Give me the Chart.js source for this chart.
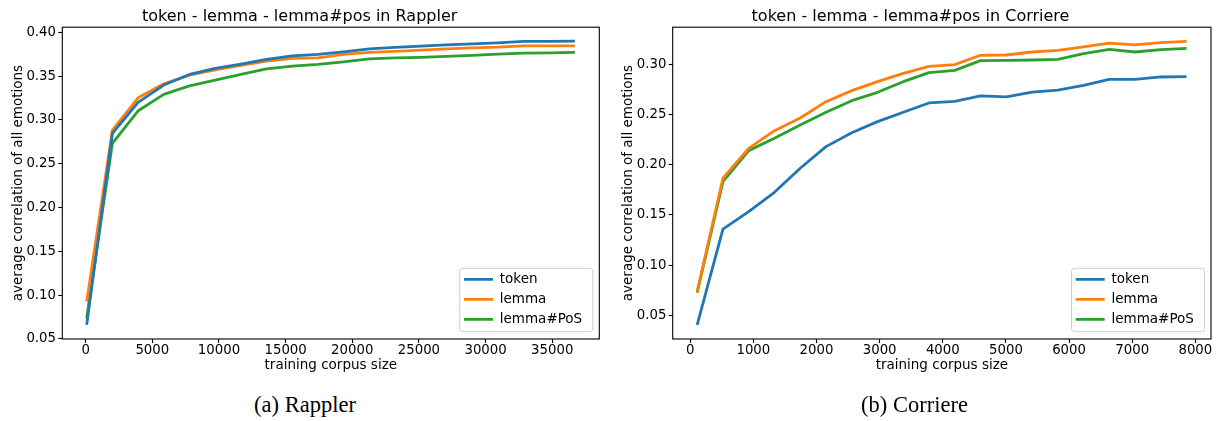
<!DOCTYPE html>
<html>
<head>
<meta charset="utf-8">
<script src="https://cdn.jsdelivr.net/npm/chart.js@4.4.1/dist/chart.umd.min.js"></script>
<style>
  html, body { margin: 0; padding: 0; background: #fff; width: 1219px; height: 421px; overflow: hidden; position: relative; }
  .wrap { position: absolute; top: 0; }
  .cap { position: absolute; top: 393.5px; font-family: "Liberation Serif", serif; font-size: 22.5px; line-height: 1; text-align: center; color: #000; white-space: nowrap; }
</style>
</head>
<body>
<div class="wrap" style="left:0px;width:662px;height:385px;"><canvas id="c1" width="662" height="385"></canvas></div>
<div class="wrap" style="left:610px;width:664px;height:385px;"><canvas id="c2" width="664" height="385"></canvas></div>
<div class="cap" style="left:0px;width:610px;">(a) Rappler</div>
<div class="cap" style="left:610px;width:609px;">(b) Corriere</div>
<script>
// ---------- data ----------
const seriesNames = ["token", "lemma", "lemma#PoS"];

const rapplerSizes = [80, 2007, 3935, 5862, 7789, 9717, 11644, 13572, 15499, 17426, 19354, 21281, 23208, 25136, 27063, 28991, 30918, 32845, 34773, 36700];
const rapplerToken = [0.066, 0.2847, 0.3201, 0.3399, 0.3520, 0.3589, 0.3638, 0.3692, 0.3733, 0.3749, 0.3779, 0.3813, 0.3829, 0.3844, 0.3859, 0.3870, 0.3881, 0.3897, 0.3897, 0.3901];
const rapplerLemma = [0.0925, 0.2885, 0.3254, 0.3413, 0.3513, 0.3573, 0.3623, 0.3672, 0.3703, 0.3710, 0.3749, 0.3772, 0.3783, 0.3798, 0.3813, 0.3824, 0.3832, 0.3847, 0.3847, 0.3847];
const rapplerPos   = [0.0735, 0.2733, 0.3105, 0.3292, 0.3390, 0.3456, 0.3520, 0.3585, 0.3615, 0.3635, 0.3665, 0.3699, 0.3710, 0.3715, 0.3726, 0.3737, 0.3752, 0.3764, 0.3767, 0.3772];

const corriereSizes = [110, 518, 926, 1334, 1742, 2150, 2558, 2966, 3374, 3781, 4189, 4597, 5005, 5413, 5821, 6229, 6637, 7044, 7452, 7860];
const corriereToken = [0.0404, 0.1357, 0.1533, 0.1725, 0.1964, 0.2180, 0.2319, 0.2429, 0.2522, 0.2615, 0.2631, 0.2685, 0.2675, 0.2724, 0.2744, 0.2791, 0.2851, 0.2851, 0.2874, 0.2877];
const corriereLemma = [0.0736, 0.1865, 0.2163, 0.2339, 0.2465, 0.2628, 0.2738, 0.2827, 0.2910, 0.2980, 0.2997, 0.3090, 0.3093, 0.3123, 0.3139, 0.3173, 0.3212, 0.3193, 0.3216, 0.3229];
const corrierePos   = [0.0725, 0.1831, 0.2140, 0.2263, 0.2396, 0.2522, 0.2638, 0.2721, 0.2827, 0.2917, 0.2940, 0.3037, 0.3040, 0.3043, 0.3050, 0.3106, 0.3149, 0.3123, 0.3146, 0.3159];

const rapplerXTicks = [0, 5000, 10000, 15000, 20000, 25000, 30000, 35000];
const rapplerYTicks = [0.05, 0.10, 0.15, 0.20, 0.25, 0.30, 0.35, 0.40];
const corriereXTicks = [0, 1000, 2000, 3000, 4000, 5000, 6000, 7000, 8000];
const corriereYTicks = [0.05, 0.10, 0.15, 0.20, 0.25, 0.30];

const titles = ["token - lemma - lemma#pos in Rappler", "token - lemma - lemma#pos in Corriere"];
const xLabel = "training corpus size";
const yLabel = "average correlation of all emotions";

// ---------- styling ----------
const colors = ["#1f77b4", "#ff7f0e", "#2ca02c"];
const FONT = "DejaVu Sans";
Chart.defaults.color = "#000";
Chart.defaults.font.family = FONT;

const framePlugin = {
  id: "mplFrame",
  beforeDraw(chart) {
    const a = chart.chartArea, ctx = chart.ctx;
    // legend box (matplotlib style)
    const x = a.right - 139.5, y = a.bottom - 70.7, w = 133, h = 63.4;
    ctx.save();
    ctx.beginPath();
    ctx.roundRect(x, y, w, h, 3);
    ctx.fillStyle = "rgba(255,255,255,0.8)";
    ctx.fill();
    ctx.strokeStyle = "#cccccc";
    ctx.lineWidth = 1;
    ctx.stroke();
    ctx.restore();
  },
  afterLayout(chart) {
    const a = chart.chartArea, lg = chart.legend;
    if (!lg) return;
    const w = lg.width, h = lg.height;
    lg.left = a.right - 141.8;
    lg.top = a.bottom - 72.95;
    lg.right = lg.left + w;
    lg.bottom = lg.top + h;
  },
  afterDraw(chart) {
    const a = chart.chartArea, ctx = chart.ctx;
    ctx.save();
    ctx.strokeStyle = "#000";
    ctx.lineWidth = 1.1;
    ctx.strokeRect(a.left, a.top, a.right - a.left, a.bottom - a.top);
    ctx.restore();
  }
};

function makeChart(id, title, sizes, seriesList, xTicks, yTicks, xr, yr, yAxisW, padRight) {
  const datasets = seriesList.map((vals, i) => ({
    label: seriesNames[i],
    data: sizes.map((s, k) => ({ x: s, y: vals[k] })),
    borderColor: colors[i],
    backgroundColor: colors[i],
    borderWidth: 2.8,
    pointRadius: 0,
    pointHoverRadius: 0,
    tension: 0,
    fill: false,
    borderJoinStyle: "round"
  }));
  return new Chart(document.getElementById(id), {
    type: "line",
    data: { datasets },
    plugins: [framePlugin],
    options: {
      responsive: false,
      animation: false,
      events: [],
      layout: { padding: { left: 0, right: padRight, top: 0, bottom: 0 } },
      plugins: {
        title: {
          display: true, text: title, color: "#000",
          font: { family: FONT, size: 16, weight: "normal", lineHeight: 1.2 },
          padding: { top: 7, bottom: 1 }
        },
        legend: {
          display: true, position: "chartArea", align: "start", fullSize: false,
          labels: {
            usePointStyle: true, pointStyle: "line", pointStyleWidth: 29,
            boxHeight: 13.5, padding: 6.5, color: "#000",
            font: { family: FONT, size: 13.5 }
          }
        },
        tooltip: { enabled: false }
      },
      scales: {
        x: {
          type: "linear", min: xr[0], max: xr[1],
          afterBuildTicks: s => { s.ticks = xTicks.map(v => ({ value: v })); },
          afterFit: s => { s.height = 46; },
          ticks: { callback: v => String(v), font: { family: FONT, size: 13.3 }, color: "#000", padding: 0, maxRotation: 0, autoSkip: false },
          grid: { display: true, drawOnChartArea: false, drawTicks: true, tickLength: 4, tickColor: "#000", tickWidth: 1.1 },
          border: { display: false },
          title: { display: true, text: xLabel, color: "#000", font: { family: FONT, size: 13.5, lineHeight: 1.2 }, padding: { top: 0, bottom: 11 } }
        },
        y: {
          type: "linear", min: yr[0], max: yr[1],
          afterBuildTicks: s => { s.ticks = yTicks.map(v => ({ value: v })); },
          afterFit: s => { s.width = yAxisW; },
          ticks: { callback: v => Number(v).toFixed(2), font: { family: FONT, size: 13.3 }, color: "#000", padding: 2.3, autoSkip: false },
          grid: { display: true, drawOnChartArea: false, drawTicks: true, tickLength: 4, tickColor: "#000", tickWidth: 1.1 },
          border: { display: false },
          title: { display: true, text: yLabel, color: "#000", font: { family: FONT, size: 13.5, lineHeight: 1.2 }, padding: { top: 10, bottom: 0 } }
        }
      }
    }
  });
}

makeChart("c1", titles[0], rapplerSizes, [rapplerToken, rapplerLemma, rapplerPos],
  rapplerXTicks, rapplerYTicks, [-1751, 38531], [0.0498, 0.406], 62.3, 62.7);
makeChart("c2", titles[1], corriereSizes, [corriereToken, corriereLemma, corrierePos],
  corriereXTicks, corriereYTicks, [-277.5, 8247.5], [0.0263, 0.337], 62.7, 63);
</script>
</body>
</html>
